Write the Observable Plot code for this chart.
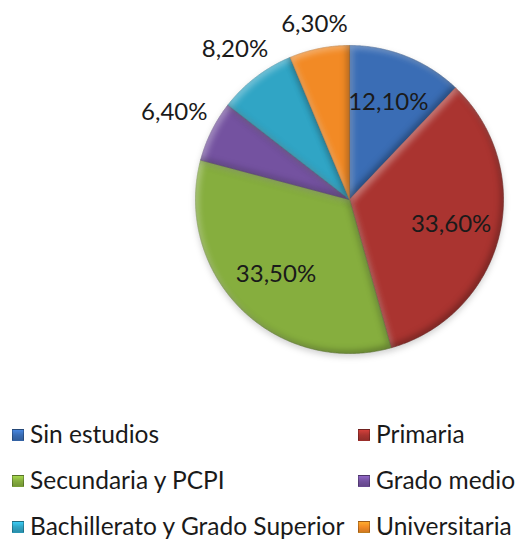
<!DOCTYPE html>
<html>
<head>
<meta charset="utf-8">
<script src="https://cdn.jsdelivr.net/npm/d3@7"></script>
<script src="https://cdn.jsdelivr.net/npm/@observablehq/plot@0.6"></script>
<style>
  html, body { margin: 0; padding: 0; background: #fff; }
  #wrap { position: relative; width: 523px; height: 540px; overflow: hidden; font-family: Lato, "Open Sans", sans-serif; }
  #chart { position: absolute; left: 0; top: 0; }
  .leg { position: absolute; font-size: 24.5px; color: #1a1a1a; line-height: 24px; white-space: nowrap; }
  .sw { position: absolute; width: 12px; height: 12px; box-sizing: border-box; border: 1px solid rgba(0,0,0,0.25); }
</style>
</head>
<body>
<div id="wrap"><div id="chart"></div></div>
<script>
const categories = ["Sin estudios", "Primaria", "Secundaria y PCPI", "Grado medio", "Bachillerato y Grado Superior", "Universitaria"];
const values = [12.1, 33.6, 33.5, 6.4, 8.2, 6.3];
const labels = ["12,10%", "33,60%", "33,50%", "6,40%", "8,20%", "6,30%"];
const colors = ["#3a6db5", "#aa3430", "#86ae3e", "#7452a0", "#30a5c5", "#f28a25"];

const total = d3.sum(values);
let cum = 0;
const slices = values.map((v, i) => {
  const a0 = cum / total * 2 * Math.PI;
  cum += v;
  const a1 = cum / total * 2 * Math.PI;
  return {i, cat: categories[i], v, a0, a1, frac: v / total};
});

// polygon outlines in data units (unit circle), angle measured clockwise from top
const poly = [];
for (const s of slices) {
  poly.push({i: s.i, x: 0, y: 0});
  const n = Math.max(4, Math.ceil((s.a1 - s.a0) / (Math.PI / 360)));
  for (let k = 0; k <= n; k++) {
    const a = s.a0 + (s.a1 - s.a0) * k / n;
    poly.push({i: s.i, x: Math.sin(a), y: Math.cos(a)});
  }
  poly.push({i: s.i, x: 0, y: 0});
}

// label positions
const R = 154; // pixels per data unit
const lab = slices.map(s => {
  const m = (s.a0 + s.a1) / 2;
  if (s.frac > 0.1) {
    const r = 0.68;
    return {x: r * Math.sin(m), y: r * Math.cos(m), t: labels[s.i]};
  }
  const rr = (R + 20 + Math.abs(Math.sin(m)) * 24) / R;
  return {x: rr * Math.sin(m), y: rr * Math.cos(m), t: labels[s.i]};
});

const plot = Plot.plot({
  width: 523,
  height: 395,
  margin: 0,
  x: {domain: [-1, 1], range: [195, 503], axis: null},
  y: {domain: [-1, 1], range: [353, 45], axis: null},
  marks: [
    ...slices.map(s => Plot.line(poly.filter(p => p.i === s.i), {
      x: "x", y: "y", fill: colors[s.i], stroke: d3.color(colors[s.i]).darker(0.8).formatHex(), strokeWidth: 1, strokeOpacity: 0.5, curve: "linear"
    })),
    Plot.text(lab, {x: "x", y: "y", text: "t", fontSize: 24, fill: "#1a1a1a", fontFamily: "Lato, 'Open Sans', sans-serif"})
  ]
});

// bevel + soft shadow effect on slices
const ns = "http://www.w3.org/2000/svg";
const defs = document.createElementNS(ns, "defs");
defs.innerHTML = `
<filter id="bevel" x="-20%" y="-20%" width="140%" height="140%" color-interpolation-filters="sRGB">
  <feGaussianBlur in="SourceAlpha" stdDeviation="3" result="blur"/>
  <feOffset in="blur" dx="3" dy="3" result="offA"/>
  <feComposite in="SourceAlpha" in2="offA" operator="out" result="hiMask"/>
  <feFlood flood-color="#ffffff" flood-opacity="0.35"/>
  <feComposite in2="hiMask" operator="in" result="hi"/>
  <feOffset in="blur" dx="-3" dy="-3" result="offB"/>
  <feComposite in="SourceAlpha" in2="offB" operator="out" result="shMask"/>
  <feFlood flood-color="#000000" flood-opacity="0.28"/>
  <feComposite in2="shMask" operator="in" result="sh"/>
  <feGaussianBlur in="SourceAlpha" stdDeviation="3" result="ds0"/>
  <feOffset in="ds0" dx="0" dy="3" result="ds1"/>
  <feFlood flood-color="#000000" flood-opacity="0.18"/>
  <feComposite in2="ds1" operator="in" result="ds"/>
  <feMerge>
    <feMergeNode in="ds"/>
    <feMergeNode in="SourceGraphic"/>
    <feMergeNode in="hi"/>
    <feMergeNode in="sh"/>
  </feMerge>
</filter>`;
plot.insertBefore(defs, plot.firstChild);
plot.querySelectorAll('g[aria-label="line"] path').forEach(p => p.setAttribute("filter", "url(#bevel)"));

document.getElementById("chart").appendChild(plot);

// legend
const wrap = document.getElementById("wrap");
const rowsY = [435, 481, 527];
const colX = [12, 358];
categories.forEach((c, i) => {
  const col = i % 2, row = Math.floor(i / 2);
  const sw = document.createElement("div");
  sw.className = "sw";
  sw.style.left = colX[col] + "px";
  sw.style.top = (rowsY[row] - 6) + "px";
  sw.style.background = `linear-gradient(${d3.color(colors[i]).brighter(0.6)}, ${colors[i]} 50%, ${d3.color(colors[i]).darker(0.4)})`;
  wrap.appendChild(sw);
  const t = document.createElement("div");
  t.className = "leg";
  t.textContent = c;
  t.style.left = (colX[col] + 18) + "px";
  t.style.top = (rowsY[row] - 13) + "px";
  wrap.appendChild(t);
});
</script>
</body>
</html>
